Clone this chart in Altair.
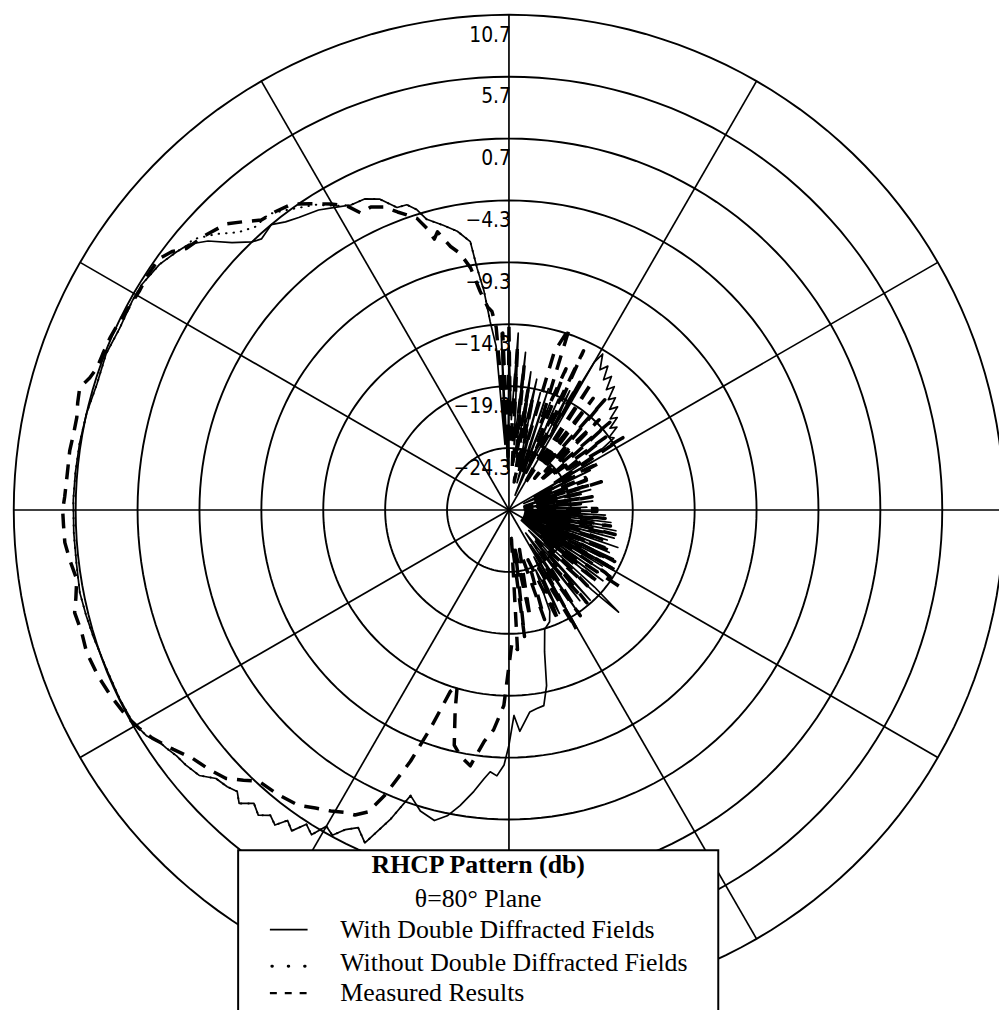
import altair as alt
import pandas as pd

# ---------------- data ----------------
ring_levels = [-24.3, -19.3, -14.3, -9.3, -4.3, 0.7, 5.7, 10.7]
center_db = -29.3
spoke_angles = [0, 30, 60, 90, 120, 150, 180, 210, 240, 270, 300, 330]

series_names = ["With Double Diffracted Fields",
                "Without Double Diffracted Fields",
                "Measured Results"]

# angle: degrees clockwise from the top; value: dB
solid_angle = [0, 1.5, 3, 4.5, 6, 7.5, 9, 10.5, 12, 13.5, 15, 16.5, 18, 19.5, 21, 22.5, 24, 25.5, 27, 28.5,
               30, 31, 33, 34.5, 36, 37.5, 39, 40.5, 42, 43.5, 45, 46.5, 48, 49.5, 51, 52.5, 54, 55.5, 57, 58.5,
               60, 62, 64, 66, 68, 70, 72, 74, 76, 78, 80, 82, 84, 86, 88,
               90, 91, 92, 93, 94, 95, 96, 97, 98, 99, 100, 101, 102, 103, 104, 105, 106, 107, 108, 109,
               110, 111, 112, 113, 114, 115, 116, 117, 118, 119, 120, 121, 122, 123, 124, 125, 126, 127, 128, 129,
               130, 132, 133, 134, 136,
               138, 140, 142, 144, 146, 148, 150, 152, 154, 156, 158, 160, 163.3, 165.9, 167.9, 169.9, 172, 174.1,
               177.2, 178.6, 180, 181.1, 182.6, 184.1, 185.3, 187.1, 189.4, 191.4, 193.5, 196.4, 199, 201, 203.4,
               205.4, 207.1, 208.5, 210, 211.3, 212.8, 214.1, 215.5, 216.6, 218, 219.4, 221, 222.6, 224, 225.5,
               227.5, 229.4, 231.7, 233.5, 235.2, 236.5, 238.1, 240.7, 244.1, 248.4, 253.1, 256, 259.1, 263, 267,
               271.3, 275, 278.8, 282.9, 287, 291.2, 295, 299, 301.6, 305.1, 307.8, 309.7, 311.8, 314, 316.2,
               317.6, 320.2, 322.2, 324.3, 327.6, 330.6, 332.6, 335.1, 337.4, 339.7, 341.5, 342.9, 344.2, 347,
               349.5, 351.8, 352.5, 353.5, 354.3, 355.5, 356.5, 357.5, 358.5, 360]
solid_db = [-16.0, -22, -15.0, -24, -16.5, -25, -18.0, -23, -18.5, -26, -19.5, -27, -19.0, -26, -20.0, -28, -19.5, -26, -18.5, -22,
            -15.5, -14.6, -15.8, -15.2, -16.3, -15.7, -16.8, -16.2, -17.3, -16.8, -17.8, -17.2, -18.3, -17.8, -18.8, -18.3, -19.3, -19.0, -20.5, -25,
            -21.5, -27, -22.0, -28, -22.5, -27, -23.0, -28, -22.5, -27, -23.5, -28, -22.5, -27, -23.0,
            -28, -22.5, -27, -21.5, -28, -22, -27, -21, -28, -21.5, -27, -20.5, -28, -21.5, -27, -20.5, -28, -21, -27, -20,
            -28, -21, -26, -20.5, -28, -20, -27, -21, -28, -19.8, -26, -20.5, -28, -19.5, -27, -20.5, -28, -19.8, -26, -21,
            -28, -20.0, -17.2, -20.0, -27,
            -19.5, -26, -20.0, -27, -19.0, -26, -19.5, -25, -20.0, -24, -20.5, -19.7, -19.25, -17.5, -14.8, -13.25, -13.1, -12.9,
            -11.4, -12.7, -10.3, -8.7, -7.8, -8.1, -7.5, -6.4, -5.1, -4.1, -3.5, -3.95, -4.9, -2.5, 0.0,
            -0.9, -0.3, 0.6, 0.2, 1.4, 0.9, 2.0, 1.5, 2.4, 2.0, 2.6, 2.1, 2.9, 2.3, 2.6,
            2.8, 3.65, 3.95, 4.1, 4.4, 4.6, 5.2, 5.6, 5.65, 5.65, 5.8, 5.9, 6.0, 5.9, 5.9,
            5.9, 5.85, 5.8, 5.7, 5.5, 5.6, 5.4, 5.5, 5.5, 5.2, 4.7, 4.3, 3.3, 1.8, 0.7,
            0.35, 0.7, 0.15, -0.2, -0.6, -1.2, -1.55, -1.6, -2.1, -3.25, -3.3, -3.9, -4.9, -5.7,
            -6.4, -7.4, -9.6, -11.5, -14.0, -16, -24, -15, -26, -16.0]

dotted_angle = [199, 201, 203.4, 205.4, 207.1, 208.5, 210, 211.3, 212.8, 214.1, 215.5, 216.6, 218, 219.4, 221,
                222.6, 224, 225.5, 227.5, 229.4, 231.7, 233.5, 235.2, 236.5, 238.1, 240.7, 244.1, 248.4, 253.1,
                256, 259.1, 263, 267, 271.3, 275, 278.8, 282.9, 287, 291.2, 295, 299, 301.6, 305.1, 307.8,
                309.7, 310.5, 313.3, 315.8, 318.2, 320.9, 323.3, 327.6, 330.6, 332.6, 335.1, 337.4, 339.7,
                341.5, 342.9, 344.2, 347, 349.5, 351.8, 352.5, 353.5, 354.3]
dotted_db = [-4.9, -2.5, 0.0, -0.9, -0.3, 0.6, 0.2, 1.4, 0.9, 2.0, 1.5, 2.4, 2.0, 2.6, 2.1,
             2.9, 2.3, 2.6, 2.8, 3.65, 3.95, 4.1, 4.4, 4.6, 5.2, 5.6, 5.65, 5.65, 5.8,
             5.9, 6.0, 5.9, 5.9, 5.9, 5.85, 5.8, 5.7, 5.5, 5.6, 5.4, 5.5, 5.5, 5.2, 4.7,
             4.3, 4.35, 3.2, 2.0, 1.4, 1.5, 0.9, -0.1, -1.1, -1.55, -1.6, -2.1, -3.25,
             -3.3, -3.9, -4.9, -5.7, -6.4, -7.4, -9.6, -11.5, -14.0]

dashed_angle = [0, 1.5, 3, 4.5, 6, 7.5, 9, 10.5, 12, 14, 16, 18.4, 20, 22, 23.5, 25.1, 27, 29, 31, 33,
                35, 37, 39, 41, 43, 45, 47, 49, 51, 53, 55, 57.6, 60, 62.5, 65, 67, 69, 71, 73, 75,
                77, 79, 81, 83, 85, 87, 89, 91, 93, 95, 97, 99, 101, 103, 105, 107.5, 110, 112, 114, 116,
                118, 119.5, 121, 123, 124.7, 127, 129, 131, 134, 137, 140, 143, 146, 148, 150.5, 153, 156, 159, 162, 165,
                168.9, 171, 173, 175, 176.5, 178.7, 181.5, 184, 186.1, 188.6, 191, 193.1, 195, 196.4, 197.9,
                199.8, 201.4, 203.5, 205, 206.8, 208.5, 210.6, 213, 215.5, 219, 222.7, 224.5, 226.5, 229,
                231.9, 234.5, 237.4, 239.5, 241.7, 245, 248, 251.4, 254, 256.7, 258.5, 260.9, 263.5, 265.8,
                268, 270, 271.7, 274.5, 277.7, 280, 282.1, 284, 285.9, 287.5, 289, 291, 293.3, 295.9, 298,
                300.6, 303, 305.7, 307.5, 309, 312, 315.3, 317.5, 319.5, 322, 324.6, 327, 329.8, 332, 333.5,
                335.5, 337.5, 339.5, 341, 342.5, 343.8, 344.6, 345.6, 347.5, 349.2, 351, 352.5, 354, 355.1,
                356, 357, 358, 359, 360]
dashed_db = [-14.5, -24, -16, -26, -17.5, -25, -19.5, -27, -20, -26, -16, -13.8, -22, -17, -25, -15.1, -24, -17.5, -27, -17,
             -25, -18, -26, -17.5, -25, -19, -26, -18.5, -25, -19.5, -24, -18.4, -25, -21, -27, -22.6, -22.6, -27, -21.5, -27,
             -23, -28, -22.5, -27, -23.5, -28, -22.2, -22.2, -27, -21.5, -26, -21, -26, -20.5, -25, -21.3, -26, -20.5, -25, -19.8,
             -25, -19.4, -26, -20, -18.5, -25, -20, -26, -20.5, -26, -19.5, -25, -19, -25, -18.2, -24, -19.5, -25, -20, -26,
             -20.5, -26, -19, -27, -18.0, -18.6, -13.5, -11.5, -10.5, -8.4, -9.0, -9.8, -12.5, -14.5, -13.9,
             -10.5, -7.5, -4.2, -2.4, -1.7, -1.5, -1.05, -0.6, 0.0, 0.3, 0.5, 1.3, 2.2, 2.7,
             3.2, 4.0, 4.9, 5.4, 5.8, 6.2, 6.5, 6.7, 6.6, 6.75, 6.4, 6.06, 6.4, 6.67,
             6.7, 6.75, 6.6, 6.5, 6.5, 6.4, 6.4, 6.6, 6.75, 6.2, 5.9, 5.85, 5.8, 5.65, 5.5,
             5.4, 5.5, 5.5, 5.0, 4.25, 3.8, 3.2, 2.3, 1.5, 1.3, 1.0, 0.2, -0.7, -1.5, -2.5,
             -2.4, -2.8, -3.6, -4.1, -4.6, -5.65, -6.6, -6.1, -7.5, -8.2, -9.5, -11.5, -12.8, -13.2,
             -14.5, -22, -15, -25, -14.5]

legend_title = "RHCP Pattern (db)"
legend_subtitle = "θ=80° Plane"

# ---------------- tables ----------------
def curve(name, angles, values):
    return pd.DataFrame({"series": name, "i": range(len(angles)), "angle": angles, "db": values})

solid_df = curve(series_names[0], solid_angle, solid_db)
dotted_df = curve(series_names[1], dotted_angle, dotted_db)
dashed_df = curve(series_names[2], dashed_angle, dashed_db)

ring_rows = [{"level": lv, "angle": a, "db": lv} for lv in ring_levels for a in range(0, 361, 2)]
ring_df = pd.DataFrame(ring_rows)
spoke_df = pd.DataFrame({"angle": spoke_angles, "db": max(ring_levels)})
label_df = pd.DataFrame({"level": ring_levels})

# ---------------- scales (1 unit = 1 dB of radius) ----------------
PX = 12.48
W, H = 999, 1002
CX, CY = 505, 502
XS = alt.Scale(domain=[-CX / PX, (W - CX) / PX], nice=False, zero=False)
YS = alt.Scale(domain=[-(H - CY) / PX, CY / PX], nice=False, zero=False)
X = alt.X("x:Q", scale=XS, axis=None)
Y = alt.Y("y:Q", scale=YS, axis=None)

R_EXPR = f"max(datum.db - ({center_db}), 0)"

def polar(ch):
    return ch.transform_calculate(r=R_EXPR).transform_calculate(
        x="datum.r * sin(datum.angle * PI / 180)",
        y="datum.r * cos(datum.angle * PI / 180)")

rings = polar(alt.Chart(ring_df).mark_line(color="black", strokeWidth=1.9)).encode(
    x=X, y=Y, detail="level:N", order="angle:Q")

spokes = alt.Chart(spoke_df).mark_rule(color="black", strokeWidth=1.7).transform_calculate(
    r=R_EXPR, x0="0", y0="0").transform_calculate(
    x="datum.r * sin(datum.angle * PI / 180)",
    y="datum.r * cos(datum.angle * PI / 180)").encode(
    x=alt.X("x0:Q", scale=XS, axis=None), y=alt.Y("y0:Q", scale=YS, axis=None),
    x2="x:Q", y2="y:Q")

labels = alt.Chart(label_df).mark_text(
    align="right", baseline="middle", dx=2, dy=21, fontSize=21,
    font="'DejaVu Sans Condensed', 'Liberation Sans Narrow', 'DejaVu Sans'", color="black"
).transform_calculate(x="0", y=f"datum.level - ({center_db})").encode(
    x=X, y=Y, text=alt.Text("level:Q", format=".1f"))

solid = polar(alt.Chart(solid_df).mark_line(color="black", strokeWidth=1.7, strokeJoin="round")).encode(
    x=X, y=Y, order="i:Q")
dotted = polar(alt.Chart(dotted_df).mark_line(color="black", strokeWidth=2, strokeDash=[0.5, 7],
                                              strokeCap="round")).encode(x=X, y=Y, order="i:Q")
dashed = polar(alt.Chart(dashed_df).mark_line(color="black", strokeWidth=3.5, strokeDash=[15, 10],
                                              strokeJoin="round")).encode(x=X, y=Y, order="i:Q")

one = pd.DataFrame({"k": [0]})
box = alt.Chart(one).mark_rect(fill="white", stroke="black", strokeWidth=2).encode(
    x=alt.value(232), x2=alt.value(716), y=alt.value(845), y2=alt.value(1060))

SERIF = "'Liberation Serif', 'DejaVu Serif', serif"

def text_line(txt, x, y, align, bold=False):
    return alt.Chart(pd.DataFrame({"t": [txt]})).mark_text(
        align=align, baseline="middle", fontSize=26, font=SERIF,
        fontWeight="bold" if bold else "normal", color="black").encode(
        x=alt.value(x), y=alt.value(y), text="t:N")

t1 = text_line(legend_title, 474, 860, "center", bold=True)
t2 = text_line(legend_subtitle, 474, 894, "center")
row_y = [925, 959, 989]
entries = [text_line(series_names[k], 335, row_y[k], "left") for k in range(3)]

sym_solid = alt.Chart(one).mark_rule(color="black", strokeWidth=1.6).encode(
    x=alt.value(264), x2=alt.value(302), y=alt.value(row_y[0]))
sym_dot = alt.Chart(one).mark_rule(color="black", strokeWidth=3, strokeDash=[0.5, 16],
                                   strokeCap="round").encode(
    x=alt.value(266), x2=alt.value(302), y=alt.value(row_y[1] + 3))
sym_dash = alt.Chart(one).mark_rule(color="black", strokeWidth=2.2, strokeDash=[7, 8]).encode(
    x=alt.value(264), x2=alt.value(302), y=alt.value(row_y[2]))

chart = alt.layer(
    rings, spokes, labels, solid, dotted, dashed,
    box, t1, t2, *entries, sym_solid, sym_dot, sym_dash
).properties(
    width=W, height=H, padding=0,
    autosize=alt.AutoSizeParams(type="none"),
    background="white"
).configure_view(strokeWidth=0)

chart.save("out.html", embed_options={"renderer": "svg", "actions": False})
